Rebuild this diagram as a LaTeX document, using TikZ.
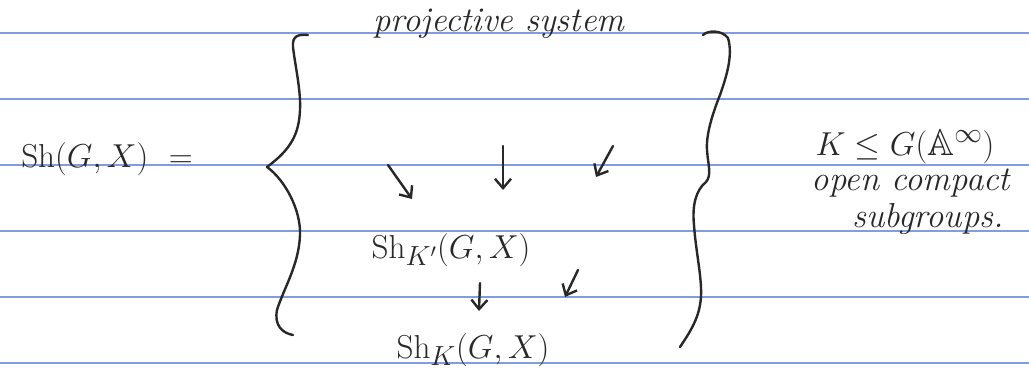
\documentclass[tikz,border=0pt]{standalone}
\usepackage{amssymb}
\usetikzlibrary{arrows.meta}
\definecolor{ink}{RGB}{40,40,40}
\definecolor{rule}{RGB}{130,155,225}
\begin{document}
\begin{tikzpicture}[x=0.75pt,y=-0.75pt,
  ruleline/.style={draw=rule,line width=1pt},
  pen/.style={draw=ink,line width=1.8pt,line cap=round,line join=round},
  penarrow/.style={pen,-{Straight Barb[length=7pt,width=12pt,line width=1.8pt]}},
  formula/.style={text=ink,inner sep=0pt,font=\fontsize{28}{32}\selectfont},
  words/.style={text=ink,inner sep=0pt,font=\fontsize{26}{30}\selectfont\itshape}]
\fill[white] (0,0) rectangle (1029,372);
\useasboundingbox (0,0) rectangle (1029,372);
% ruled lines
\foreach \y in {33,99,165,231,297,363}
  \draw[ruleline] (0,\y) -- (1029,\y);
% texts
\node[words,anchor=base] (proj) at (499,31) {projective system};
\node[formula,anchor=base] (sh) at (107,167) {$\mathrm{Sh}(G,X)\ =$};
\node[formula,anchor=base] (shkp) at (451,258) {$\mathrm{Sh}_{K'}(G,X)$};
\node[formula,anchor=base] (shk) at (473,358) {$\mathrm{Sh}_{K}(G,X)$};
\node[formula,anchor=base,font=\fontsize{28}{32}\selectfont] (kg) at (905,155) {$K\leq G(\mathbb{A}^{\infty})$};
\node[words,anchor=base] (oc) at (911,190) {open compact};
\node[words,anchor=base] (sg) at (928,227) {subgroups.};
% braces
\draw[pen] (308,35) .. controls (298,34) and (292,36) .. (293,47)
  .. controls (295,65) and (301,90) .. (300,110)
  .. controls (299,135) and (290,150) .. (267,167)
  .. controls (285,180) and (301,210) .. (300,235)
  .. controls (299,265) and (283,290) .. (277,310)
  .. controls (274,325) and (282,333) .. (293,335);
\draw[pen] (703,35) .. controls (708,30) and (722,30) .. (728,38)
  .. controls (733,55) and (727,75) .. (720,95)
  .. controls (712,115) and (706,135) .. (707,150)
  .. controls (708,165) and (712,175) .. (706,182)
  .. controls (696,190) and (692,205) .. (694,225)
  .. controls (696,255) and (704,285) .. (700,305)
  .. controls (697,322) and (688,335) .. (680,347);
% arrows into Sh_K'
\coordinate (a1s) at (388,165); \coordinate (a1e) at (412,199);
\coordinate (a2s) at (503,146); \coordinate (a2e) at (503,190);
\coordinate (a3s) at (613,146); \coordinate (a3e) at (596,177);
\draw[penarrow] (a1s) -- (a1e);
\draw[penarrow] (a2s) -- (a2e);
\draw[penarrow] (a3s) -- (a3e);
% arrows into Sh_K
\coordinate (b1s) at (480,283); \coordinate (b1e) at (479,311);
\coordinate (b2s) at (578,270); \coordinate (b2e) at (565,297);
\draw[penarrow] (b1s) -- (b1e);
\draw[penarrow] (b2s) -- (b2e);
\end{tikzpicture}
\end{document}
